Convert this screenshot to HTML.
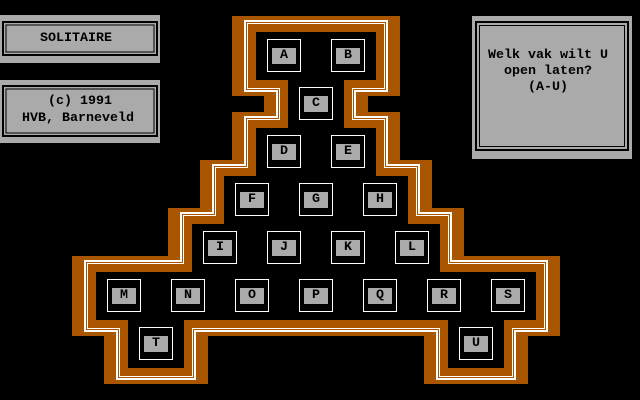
<!DOCTYPE html>
<html><head><meta charset="utf-8"><style>
html,body{margin:0;padding:0;background:#000;}
body{width:640px;height:400px;position:relative;overflow:hidden;font-family:"Liberation Mono",monospace;font-weight:bold;font-size:13.33px;}
.t{position:absolute;color:#000;white-space:pre;line-height:16px;}
.cell{position:absolute;width:32px;height:31px;border:1px solid #fff;}
.cell div{position:absolute;left:4px;top:8px;width:24px;height:16px;background:#aaa;color:#000;text-align:center;line-height:16px;}
</style></head><body>
<svg width="640" height="400" style="position:absolute;left:0;top:0">
<defs>
<path id="p" d="M256 32 L376 32 L376 80 L344 80 L344 128 L376 128 L376 176 L408 176 L408 224 L440 224 L440 272 L536 272 L536 320 L504 320 L504 368 L448 368 L448 320 L184 320 L184 368 L128 368 L128 320 L96 320 L96 272 L192 272 L192 224 L224 224 L224 176 L256 176 L256 128 L288 128 L288 80 L256 80 Z"/>
<path id="ps" transform="scale(1,0.6667)" d="M256 48 L376 48 L376 120 L344 120 L344 192 L376 192 L376 264 L408 264 L408 336 L440 336 L440 408 L536 408 L536 480 L504 480 L504 552 L448 552 L448 480 L184 480 L184 552 L128 552 L128 480 L96 480 L96 408 L192 408 L192 336 L224 336 L224 264 L256 264 L256 192 L288 192 L288 120 L256 120 Z"/>
</defs>
<use href="#ps" fill="none" stroke="#aa5500" stroke-width="48" stroke-linejoin="miter"/>
<use href="#p" fill="none" stroke="#fff" stroke-width="24" stroke-linejoin="miter"/>
<use href="#p" fill="none" stroke="#aa5500" stroke-width="20" stroke-linejoin="miter"/>
<use href="#p" fill="none" stroke="#fff" stroke-width="18" stroke-linejoin="miter"/>
<use href="#p" fill="none" stroke="#aa5500" stroke-width="16" stroke-linejoin="miter"/>
<use href="#p" fill="#000"/>
<rect x="0" y="15" width="160" height="48" fill="#aaa"/>
<rect x="3" y="22" width="154" height="33" fill="none" stroke="#000" stroke-width="2"/>
<rect x="6" y="25" width="148" height="27" fill="none" stroke="#000" stroke-width="1"/>
<rect x="0" y="80" width="160" height="63" fill="#aaa"/>
<rect x="3" y="86" width="154" height="50" fill="none" stroke="#000" stroke-width="2"/>
<rect x="6" y="89" width="148" height="44" fill="none" stroke="#000" stroke-width="1"/>
<rect x="472" y="16" width="160" height="143" fill="#aaa"/>
<rect x="476" y="22" width="152" height="128" fill="none" stroke="#000" stroke-width="2"/>
<rect x="479.5" y="25.5" width="145" height="121" fill="none" stroke="#000" stroke-width="1"/>
</svg>
<div class="t" style="left:40px;top:31px">SOLITAIRE</div>
<div class="t" style="left:48px;top:94px">(c) 1991</div>
<div class="t" style="left:22px;top:111px">HVB, Barneveld</div>
<div class="t" style="left:488px;top:48px">Welk vak wilt U</div>
<div class="t" style="left:504px;top:64px">open laten?</div>
<div class="t" style="left:528px;top:80px">(A-U)</div>

<div class="cell" style="left:267px;top:39px"><div>A</div></div>
<div class="cell" style="left:331px;top:39px"><div>B</div></div>
<div class="cell" style="left:299px;top:87px"><div>C</div></div>
<div class="cell" style="left:267px;top:135px"><div>D</div></div>
<div class="cell" style="left:331px;top:135px"><div>E</div></div>
<div class="cell" style="left:235px;top:183px"><div>F</div></div>
<div class="cell" style="left:299px;top:183px"><div>G</div></div>
<div class="cell" style="left:363px;top:183px"><div>H</div></div>
<div class="cell" style="left:203px;top:231px"><div>I</div></div>
<div class="cell" style="left:267px;top:231px"><div>J</div></div>
<div class="cell" style="left:331px;top:231px"><div>K</div></div>
<div class="cell" style="left:395px;top:231px"><div>L</div></div>
<div class="cell" style="left:107px;top:279px"><div>M</div></div>
<div class="cell" style="left:171px;top:279px"><div>N</div></div>
<div class="cell" style="left:235px;top:279px"><div>O</div></div>
<div class="cell" style="left:299px;top:279px"><div>P</div></div>
<div class="cell" style="left:363px;top:279px"><div>Q</div></div>
<div class="cell" style="left:427px;top:279px"><div>R</div></div>
<div class="cell" style="left:491px;top:279px"><div>S</div></div>
<div class="cell" style="left:139px;top:327px"><div>T</div></div>
<div class="cell" style="left:459px;top:327px"><div>U</div></div>
</body></html>
